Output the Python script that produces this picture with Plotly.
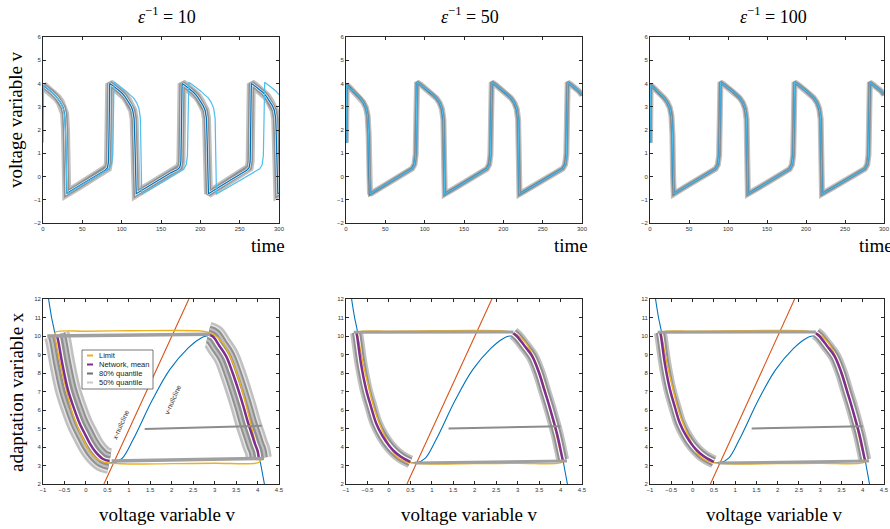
import plotly.graph_objects as go

# ---------------- time series (top row) ----------------
LIM_T = [0, 0.8, 5, 12, 18, 22, 25.5, 27.5, 28.8, 29.6, 30.5, 45, 60, 75, 84, 87, 88.6, 89.5, 90.3,
         95, 100, 106, 111, 115, 119, 122, 123.8, 124.6, 125.5, 140, 155, 170, 179, 182, 183.6, 184.5, 185.3,
         190, 195, 201, 206, 210, 214, 217, 218.8, 219.6, 220.5, 235, 250, 265, 275.5, 278.5, 280.1, 281, 281.8,
         286, 291, 296, 300]
LIM_V = [1.45, 3.93, 3.8, 3.6, 3.38, 3.2, 2.95, 2.6, 1.8, 0.0, -0.75, -0.45, -0.15, 0.13, 0.33, 0.5, 0.9, 2.5, 4.05,
         3.95, 3.83, 3.66, 3.5, 3.38, 3.18, 2.92, 2.5, 1.0, -0.75, -0.47, -0.17, 0.12, 0.32, 0.5, 0.9, 2.5, 4.05,
         3.95, 3.83, 3.66, 3.5, 3.38, 3.18, 2.92, 2.5, 1.0, -0.75, -0.47, -0.17, 0.12, 0.33, 0.5, 0.9, 2.5, 4.05,
         3.95, 3.83, 3.68, 3.52]

NET10_T = [0, 5, 12, 18, 22, 25.5, 27.5, 28.6, 29.4, 30.2, 45, 60, 75, 79, 82, 83.3, 84, 84.8,
           89, 95, 100, 104, 108, 111.5, 114, 115.8, 116.8, 117.6, 118.5, 133, 148, 163, 171, 174, 175.3, 176, 176.8,
           181, 187, 192, 196, 200, 203.5, 206, 207.8, 208.7, 209.5, 210.3, 225, 240, 255, 259, 262, 263.3, 264, 264.8,
           269, 275, 280, 284, 288, 291.5, 294, 295.8, 296.8, 297.6, 298.5, 300]
NET10_V = [3.92, 3.8, 3.6, 3.38, 3.2, 2.98, 2.7, 2.0, 0.2, -0.72, -0.42, -0.12, 0.18, 0.27, 0.38, 0.65, 2.0, 4.0,
           3.9, 3.75, 3.6, 3.45, 3.25, 3.05, 2.85, 2.5, 1.5, -0.3, -0.74, -0.44, -0.13, 0.17, 0.3, 0.4, 0.65, 2.0, 4.0,
           3.9, 3.75, 3.6, 3.45, 3.25, 3.05, 2.85, 2.5, 1.5, -0.3, -0.74, -0.43, -0.12, 0.18, 0.27, 0.38, 0.65, 2.0, 4.0,
           3.9, 3.75, 3.6, 3.45, 3.25, 3.05, 2.85, 2.5, 1.5, -0.3, -0.74, -0.71]

NET50_T = LIM_T
NET50_V = [1.45, 3.95, 3.82, 3.6, 3.38, 3.2, 2.95, 2.62, 1.8, 0.0, -0.76, -0.46, -0.15, 0.13, 0.34, 0.52, 0.95, 2.6, 4.05,
           3.95, 3.82, 3.66, 3.5, 3.37, 3.17, 2.9, 2.45, 0.9, -0.76, -0.47, -0.17, 0.12, 0.33, 0.52, 0.95, 2.6, 4.05,
           3.95, 3.82, 3.66, 3.5, 3.37, 3.17, 2.9, 2.45, 0.9, -0.76, -0.47, -0.17, 0.12, 0.34, 0.52, 0.95, 2.6, 4.05,
           3.95, 3.82, 3.67, 3.5]
NET100_T = LIM_T
NET100_V = [1.45, 3.94, 3.81, 3.6, 3.38, 3.2, 2.95, 2.61, 1.8, 0.0, -0.75, -0.45, -0.15, 0.13, 0.33, 0.51, 0.92, 2.55, 4.05,
            3.95, 3.83, 3.66, 3.5, 3.38, 3.18, 2.91, 2.48, 0.95, -0.75, -0.47, -0.17, 0.12, 0.32, 0.51, 0.92, 2.55, 4.05,
            3.95, 3.83, 3.66, 3.5, 3.38, 3.18, 2.91, 2.48, 0.95, -0.75, -0.47, -0.17, 0.12, 0.33, 0.51, 0.92, 2.55, 4.05,
            3.95, 3.83, 3.68, 3.51]

# ---------------- phase plane (bottom row) ----------------
VNULL_V = [-0.87, -0.8, -0.73, -0.65, -0.55, -0.4, -0.2, 0.0, 0.2, 0.4, 0.64, 0.85, 1.1, 1.55, 1.95, 2.38, 2.62, 2.82,
           3.05, 3.3, 3.55, 3.75, 3.9, 4.0, 4.08, 4.16]
VNULL_X = [12.0, 11.0, 10.2, 8.5, 7.3, 5.9, 4.6, 3.9, 3.45, 3.22, 3.15, 3.4, 4.4, 6.55, 8.17, 9.34, 9.8, 10.0,
           9.8, 9.1, 7.9, 6.5, 5.1, 4.0, 3.0, 2.0]
XNULL_V = [0.42, 2.4]
XNULL_X = [2.0, 12.0]

LIMP_V = [0.65, 0.4, 0.2, 0.05, -0.1, -0.32, -0.48, -0.6, -0.69, -0.73, -0.7, 0.0, 1.0, 2.0, 2.6, 2.85, 3.0, 3.2,
          3.4, 3.6, 3.75, 3.88, 3.97, 4.03, 4.07, 4.0, 3.0, 2.0, 1.0, 0.65]
LIMP_X = [3.12, 3.2, 3.45, 3.9, 4.6, 5.9, 7.3, 8.5, 9.6, 10.1, 10.22, 10.26, 10.28, 10.3, 10.28, 10.2, 10.05, 9.6,
          8.7, 7.4, 6.1, 4.9, 4.0, 3.5, 3.25, 3.14, 3.12, 3.1, 3.08, 3.12]

# eps^-1 = 10
M10L_V = [-0.68, -0.65, -0.55, -0.42, -0.28, -0.15, 0.0, 0.09, 0.22, 0.4, 0.55]
M10L_X = [10.05, 9.8, 8.5, 7.1, 6.1, 5.3, 4.6, 4.2, 3.75, 3.35, 3.24]
M10R_V = [2.85, 2.96, 3.1, 3.27, 3.42, 3.55, 3.67, 3.78, 3.88, 3.95, 4.0, 4.03]
M10R_X = [10.08, 9.97, 9.5, 8.9, 8.0, 7.1, 6.2, 5.3, 4.6, 4.1, 3.8, 3.4]
E10TOP_V = [-0.9, 1.0, 2.9]
E10TOP_X = [10.0, 10.05, 10.1]
E10BOT_V = [4.15, 2.5, 0.6]
E10BOT_X = [3.38, 3.32, 3.25]
TR10_V = [1.37, 4.1]
TR10_X = [4.97, 5.15]

# eps^-1 = 50 / 100
M50L_V = [-0.76, -0.74, -0.65, -0.53, -0.42, -0.3, -0.15, 0.02, 0.18, 0.33, 0.5]
M50L_X = [10.2, 9.97, 8.5, 7.1, 6.2, 5.3, 4.6, 4.03, 3.65, 3.4, 3.2]
M50R_V = [2.9, 2.99, 3.15, 3.34, 3.5, 3.62, 3.74, 3.85, 3.93, 4.0, 4.05]
M50R_X = [10.15, 9.97, 9.5, 8.9, 8.0, 7.1, 6.2, 5.3, 4.6, 3.85, 3.3]
E50TOP_V = [-0.82, 1.0, 2.9]
E50TOP_X = [10.2, 10.21, 10.22]
E50BOT_V = [4.15, 2.5, 0.6]
E50BOT_X = [3.25, 3.18, 3.13]
TR50_V = [1.39, 4.0]
TR50_X = [5.0, 5.12]

M100L_V, M100L_X = M50L_V, M50L_X
M100R_V, M100R_X = M50R_V, M50R_X

TITLES = ["10", "50", "100"]

# ---------------- styling ----------------
W, H = 890, 529
LG = "#c0c0c0"
DG = "#909090"
BLUE = "#0072BD"
LBLUE = "#4DBEEE"
RED = "#D95319"
ORANGE = "#EDB120"
PURPLE = "#7E2F8E"
COLS = [(43, 279), (346, 582), (650, 884)]
TOP_Y = (37, 223)
BOT_Y = (299, 484)


def px(X):
    return X / W


def py(Y):
    return 1 - Y / H


fig = go.Figure()


def line(x, y, k, color, width, shape="linear"):
    fig.add_trace(go.Scatter(x=x, y=y, mode="lines", xaxis="x" + ("" if k == 1 else str(k)),
                             yaxis="y" + ("" if k == 1 else str(k)), showlegend=False, hoverinfo="skip",
                             line=dict(color=color, width=width, shape=shape)))


# top row
top_sets = [(NET10_T, NET10_V, [(9, LG), (5.5, DG), (2.5, "white")]),
            (NET50_T, NET50_V, [(6, LG), (3.5, DG)]),
            (NET100_T, NET100_V, [(6, LG), (3.5, DG)])]
for i, (tt, vv, layers) in enumerate(top_sets):
    k = i + 1
    for w_, c_ in layers:
        line(tt, vv, k, c_, w_)
    line(tt, vv, k, BLUE, 1.3)
    line(LIM_T, LIM_V, k, LBLUE, 1.2)

# bottom row
bot_sets = [
    (M10L_V, M10L_X, M10R_V, M10R_X, E10TOP_V, E10TOP_X, E10BOT_V, E10BOT_X, TR10_V, TR10_X,
     [(26, LG), (21, "#e4e4e4"), (18, DG), (14, LG), (10, DG), (5, "white")], 3.5),
    (M50L_V, M50L_X, M50R_V, M50R_X, E50TOP_V, E50TOP_X, E50BOT_V, E50BOT_X, TR50_V, TR50_X,
     [(13, LG), (9, DG), (5, "white")], 3),
    (M100L_V, M100L_X, M100R_V, M100R_X, E50TOP_V, E50TOP_X, E50BOT_V, E50BOT_X, TR50_V, TR50_X,
     [(13, LG), (9, DG), (5, "white")], 3),
]
for i, (lv, lx, rv, rx, tv, tx, bv, bx, trv, trx, layers, ew) in enumerate(bot_sets):
    k = i + 4
    line(VNULL_V, VNULL_X, k, BLUE, 1.1, "spline")
    line(XNULL_V, XNULL_X, k, RED, 1.1)
    for w_, c_ in layers:
        line(lv, lx, k, c_, w_, "spline")
        line(rv, rx, k, c_, w_, "spline")
    line(LIMP_V, LIMP_X, k, ORANGE, 1.4, "spline")
    line(lv, lx, k, PURPLE, 2.5, "spline")
    line(rv, rx, k, PURPLE, 2.5, "spline")
    line(tv, tx, k, "#a0a0a0", ew)
    line(bv, bx, k, "#a0a0a0", ew)
    line(trv, trx, k, "#8c8c8c", 2)

axis_common = dict(showline=True, linecolor="#262626", linewidth=0.8, mirror="ticks", ticks="inside",
                   ticklen=3, tickcolor="#262626", showgrid=False, zeroline=False, automargin=False,
                   tickfont=dict(family="Liberation Sans", size=6, color="#333333"))
layout = {}
for i in range(6):
    k = i + 1
    col = COLS[i % 3]
    rowy = TOP_Y if i < 3 else BOT_Y
    xs = "xaxis" + ("" if k == 1 else str(k))
    ys = "yaxis" + ("" if k == 1 else str(k))
    anchor_x = "y" + ("" if k == 1 else str(k))
    anchor_y = "x" + ("" if k == 1 else str(k))
    if i < 3:
        xr, xd, yr, yd = [0, 300], 50, [-2, 6], 1
    else:
        xr, xd, yr, yd = [-1, 4.5], 0.5, [2, 12], 1
    layout[xs] = dict(axis_common, domain=[px(col[0]), px(col[1])], range=xr, dtick=xd, anchor=anchor_x)
    layout[ys] = dict(axis_common, domain=[py(rowy[1]), py(rowy[0])], range=yr, dtick=yd, anchor=anchor_y)

annots = []
serif = dict(family="Liberation Serif", size=19, color="black")
for i, lab in enumerate(TITLES):
    c = (COLS[i][0] + COLS[i][1]) / 2 + 6
    annots.append(dict(text="<i>ε</i><sup>−1</sup> = " + lab, x=px(c), y=py(15), xref="paper", yref="paper",
                       showarrow=False, font=dict(family="Liberation Serif", size=18, color="black"),
                       xanchor="center", yanchor="middle"))
    annots.append(dict(text="time", x=px(COLS[i][1] - 11 + (3 if i == 2 else 0)), y=py(245), xref="paper", yref="paper",
                       showarrow=False, font=serif, xanchor="center", yanchor="middle"))
    annots.append(dict(text="voltage variable v", x=px(COLS[i][0] + 124), y=py(514), xref="paper", yref="paper",
                       showarrow=False, font=serif, xanchor="center", yanchor="middle"))
annots.append(dict(text="voltage variable v", x=px(16), y=py(120), xref="paper", yref="paper", textangle=-90,
                   showarrow=False, font=serif, xanchor="center", yanchor="middle"))
annots.append(dict(text="adaptation variable x", x=px(16), y=py(392), xref="paper", yref="paper", textangle=-90,
                   showarrow=False, font=serif, xanchor="center", yanchor="middle"))
small = dict(family="Liberation Sans", size=7, color="#333333")
annots.append(dict(text="x-nullcline", x=px(120), y=py(425), xref="paper", yref="paper", textangle=-66,
                   showarrow=False, font=small, xanchor="center", yanchor="middle"))
annots.append(dict(text="v-nullcline", x=px(172), y=py(400), xref="paper", yref="paper", textangle=-66,
                   showarrow=False, font=small, xanchor="center", yanchor="middle"))

# legend (drawn manually)
LEG_LABELS = ["Limit", "Network, mean", "80% quantile", "50% quantile"]
LEG_COLORS = [ORANGE, PURPLE, "#6e6e6e", "#c8c8c8"]
shapes = [dict(type="rect", xref="paper", yref="paper", x0=px(82), x1=px(153), y0=py(389), y1=py(350),
               line=dict(color="#555555", width=0.8), fillcolor="white", layer="above")]
for j, (lab, colr) in enumerate(zip(LEG_LABELS, LEG_COLORS)):
    yy = 355.5 + 9 * j
    shapes.append(dict(type="line", xref="paper", yref="paper", x0=px(87), x1=px(93), y0=py(yy), y1=py(yy),
                       line=dict(color=colr, width=2), layer="above"))
    annots.append(dict(text=lab, x=px(96.5), y=py(yy), xref="paper", yref="paper", showarrow=False,
                       xanchor="left", yanchor="middle", font=dict(family="Liberation Sans", size=7.5, color="#222")))

fig.update_layout(width=W, height=H, margin=dict(l=0, r=0, t=0, b=0), paper_bgcolor="white",
                  plot_bgcolor="white", showlegend=False, annotations=annots, shapes=shapes, **layout)
fig.write_html("out.html", config={"displayModeBar": False},
               post_script="document.body.style.margin='0';document.body.style.overflow='hidden';")
